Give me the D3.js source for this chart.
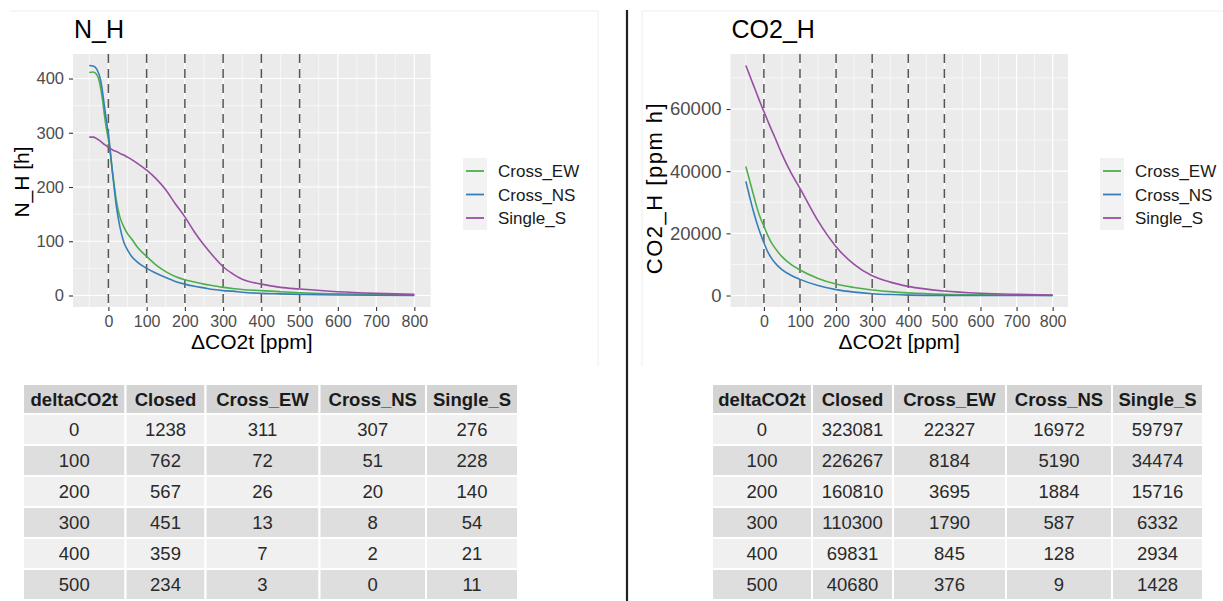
<!DOCTYPE html>
<html><head><meta charset="utf-8">
<script src="https://cdn.jsdelivr.net/npm/d3@7"></script>
<style>
body{margin:0;background:#fff;}
text{font-family:"Liberation Sans",Arial,Helvetica,sans-serif;}
</style>
</head><body>
<svg id="c" width="1223" height="601"></svg>
<script>
// ---------------- DATA ----------------
const seriesNames = ["Cross_EW", "Cross_NS", "Single_S"];
const seriesColors = ["#4DAF4A", "#377EB8", "#984EA3"];

const xTicks = [0, 100, 200, 300, 400, 500, 600, 700, 800];
const dashedAt = [0, 100, 200, 300, 400, 500];

// N_H curves
const nhX = [-50,-40,-30,-20,-15,-10,-5,0,5,10,15,20,30,40,50,60,75,100,125,150,175,200,225,250,275,300,325,350,400,450,500,600,700,800];
const nhCrossEW = [411,412,407,382,359,331,307,288,262,232,205,178,145,127,114,105,90,72,56,44,35,29,25,21,18,15,13,11,9,7,5,3,2,1];
const nhCrossNS = [424,423,417,396,374,347,322,298,267,231,200,169,127,99,84,73,62,50,41,33,26,21,17,14,11,9,8,6,4,3,2,1,0.5,0];
const nhSingleS = [292,292,289,284,281,278,276,273,271,269,267,266,262,259,255,251,244,231,215,195,169,145,117,93,72,53,40,30,21,15,12,7,4,2];
const nhYTicks = [0, 100, 200, 300, 400];

// CO2_H curves
const co2X = [-50,-40,-30,-20,-10,0,10,20,30,50,75,100,150,200,250,300,350,400,500,600,700,800];
const co2CrossEW = [41500,37200,32900,28600,25000,22327,19500,17200,15400,12500,10000,8184,5500,3695,2600,1790,1250,845,376,200,100,50];
const co2CrossNS = [36700,32000,27500,23500,20000,16972,14200,12200,10600,8300,6500,5190,3200,1884,1100,587,300,128,9,0,0,0];
const co2SingleS = [74000,71000,68000,65000,62000,59200,56400,53600,51000,45500,39500,34474,24000,15716,10000,6332,4300,2934,1428,700,350,150];
const co2YTicks = [0, 20000, 40000, 60000];

// Tables
const tableHeader = ["deltaCO2t", "Closed", "Cross_EW", "Cross_NS", "Single_S"];
const tableDelta = [0, 100, 200, 300, 400, 500];
const nhClosed = [1238, 762, 567, 451, 359, 234];
const nhTabEW = [311, 72, 26, 13, 7, 3];
const nhTabNS = [307, 51, 20, 8, 2, 0];
const nhTabS = [276, 228, 140, 54, 21, 11];
const co2Closed = [323081, 226267, 160810, 110300, 69831, 40680];
const co2TabEW = [22327, 8184, 3695, 1790, 845, 376];
const co2TabNS = [16972, 5190, 1884, 587, 128, 9];
const co2TabS = [59797, 34474, 15716, 6332, 2934, 1428];

// ---------------- DRAW ----------------
const svg = d3.select("#c");
svg.append("rect").attr("width", 1223).attr("height", 601).attr("fill", "#fff");

// faint screenshot frames
svg.append("path").attr("d", "M10,11H598V366").attr("fill", "none").attr("stroke", "#eeeeee").attr("stroke-width", 1);
svg.append("path").attr("d", "M642,366V11H1223").attr("fill", "none").attr("stroke", "#eeeeee").attr("stroke-width", 1);

// divider
svg.append("line").attr("x1", 627).attr("x2", 627).attr("y1", 10).attr("y2", 601)
  .attr("stroke", "#222").attr("stroke-width", 2.2);

function expand(lo, hi) { const e = (hi - lo) * 0.05; return [lo - e, hi + e]; }

function drawChart(cfg) {
  const g = svg.append("g");
  const xs = cfg.x;
  const allY = cfg.series.flat();
  const x = d3.scaleLinear().domain(expand(d3.min(xs), d3.max(xs))).range([cfg.px0, cfg.px1]);
  const y = d3.scaleLinear().domain(expand(0, d3.max(allY))).range([cfg.py1, cfg.py0]);
  const [xd0, xd1] = x.domain(), [yd0, yd1] = y.domain();

  // panel
  g.append("rect").attr("x", cfg.px0).attr("y", cfg.py0)
    .attr("width", cfg.px1 - cfg.px0).attr("height", cfg.py1 - cfg.py0).attr("fill", "#EBEBEB");

  // minor grid
  const xMinor = [];
  for (let i = 0; i < xTicks.length - 1; i++) xMinor.push((xTicks[i] + xTicks[i + 1]) / 2);
  xMinor.push(xTicks[0] - (xTicks[1] - xTicks[0]) / 2);
  const yt = cfg.yTicks, ystep = yt[1] - yt[0];
  const yMinor = yt.map(v => v + ystep / 2).concat([yt[0] - ystep / 2]);
  g.selectAll(".xmin").data(xMinor.filter(v => v > xd0 && v < xd1)).join("line")
    .attr("x1", d => x(d)).attr("x2", d => x(d)).attr("y1", cfg.py0).attr("y2", cfg.py1)
    .attr("stroke", "#fff").attr("stroke-width", 0.6);
  g.selectAll(".ymin").data(yMinor.filter(v => v > yd0 && v < yd1)).join("line")
    .attr("y1", d => y(d)).attr("y2", d => y(d)).attr("x1", cfg.px0).attr("x2", cfg.px1)
    .attr("stroke", "#fff").attr("stroke-width", 0.6);
  // major grid
  g.selectAll(".xmaj").data(xTicks).join("line")
    .attr("x1", d => x(d)).attr("x2", d => x(d)).attr("y1", cfg.py0).attr("y2", cfg.py1)
    .attr("stroke", "#fff").attr("stroke-width", 1.2);
  g.selectAll(".ymaj").data(yt).join("line")
    .attr("y1", d => y(d)).attr("y2", d => y(d)).attr("x1", cfg.px0).attr("x2", cfg.px1)
    .attr("stroke", "#fff").attr("stroke-width", 1.2);

  // dashed verticals
  g.selectAll(".dash").data(dashedAt).join("line")
    .attr("x1", d => x(d)).attr("x2", d => x(d)).attr("y1", cfg.py0).attr("y2", cfg.py1)
    .attr("stroke", "#555").attr("stroke-width", 1.5).attr("stroke-dasharray", "9,6");

  // curves
  const line = d3.line().x((d, i) => x(xs[i])).y(d => y(d)).curve(d3.curveMonotoneX);
  cfg.series.forEach((s, k) => {
    g.append("path").attr("d", line(s)).attr("fill", "none")
      .attr("stroke", seriesColors[k]).attr("stroke-width", 1.6);
  });

  // axes
  const ax = g.append("g").attr("transform", `translate(0,${cfg.py1})`)
    .call(d3.axisBottom(x).tickValues(xTicks).tickSize(4).tickPadding(5).tickFormat(d3.format("d")));
  const ay = g.append("g").attr("transform", `translate(${cfg.px0},0)`)
    .call(d3.axisLeft(y).tickValues(yt).tickSize(4).tickPadding(5).tickFormat(d3.format("d")));
  [ax, ay].forEach(a => {
    a.select(".domain").remove();
    a.selectAll(".tick line").attr("stroke", "#333").attr("stroke-width", 1.1);
    a.selectAll(".tick text").attr("fill", "#4D4D4D")
      .attr("font-family", "Liberation Sans, Arial, sans-serif");
  });
  ax.selectAll(".tick text").attr("font-size", 16);
  ay.selectAll(".tick text").attr("font-size", cfg.ytickSize);

  // titles
  g.append("text").attr("x", cfg.px0 + 1).attr("y", 38).attr("font-size", 25).attr("fill", "#000").text(cfg.title);
  g.append("text").attr("x", (cfg.px0 + cfg.px1) / 2).attr("y", 349).attr("text-anchor", "middle")
    .attr("font-size", 21).attr("fill", "#000").text("\u0394CO2t [ppm]");
  g.append("text").attr("transform", `translate(${cfg.ytX},${cfg.ytY}) rotate(-90)`)
    .attr("text-anchor", "middle").attr("font-size", cfg.ytSize)
    .attr("letter-spacing", cfg.ytLs).attr("fill", "#000").text(cfg.yTitle);

  // legend
  const lg = g.append("g");
  lg.append("rect").attr("x", cfg.lx).attr("y", 158).attr("width", 24).attr("height", 72).attr("fill", "#F2F2F2");
  seriesNames.forEach((n, k) => {
    const cy = 171 + k * 23.5;
    lg.append("line").attr("x1", cfg.lx + 3).attr("x2", cfg.lx + 21).attr("y1", cy).attr("y2", cy)
      .attr("stroke", seriesColors[k]).attr("stroke-width", 1.8);
    lg.append("text").attr("x", cfg.lx + 35).attr("y", cy).attr("dy", "0.36em")
      .attr("font-size", 17).attr("fill", "#1a1a1a").text(n);
  });
}

drawChart({
  title: "N_H", yTitle: "N_H [h]", ytX: 29, ytY: 182, ytSize: 21, ytLs: 0, ytickSize: 16.5,
  px0: 73, px1: 430.6, py0: 54, py1: 307,
  x: nhX, series: [nhCrossEW, nhCrossNS, nhSingleS], yTicks: nhYTicks, lx: 463
});
drawChart({
  title: "CO2_H", yTitle: "CO2_H [ppm h]", ytX: 662, ytY: 188, ytSize: 22, ytLs: 1.5, ytickSize: 18.5,
  px0: 730.5, px1: 1068, py0: 54, py1: 307,
  x: co2X, series: [co2CrossEW, co2CrossNS, co2SingleS], yTicks: co2YTicks, lx: 1100
});

function drawTable(bounds, cols) {
  const g = svg.append("g");
  const top = 384, hh = 30, rh = 31;
  const rows = tableDelta.map((d, i) => [d].concat(cols.map(c => c[i])));
  const cells = [];
  tableHeader.forEach((h, j) => cells.push({r: -1, j, t: h}));
  rows.forEach((row, i) => row.forEach((v, j) => cells.push({r: i, j, t: String(v)})));
  const yTop = r => r < 0 ? top : top + hh + r * rh;
  const hgt = r => r < 0 ? hh : rh;
  const fill = r => r < 0 ? "#D4D4D4" : (r % 2 === 0 ? "#F0F0F0" : "#DEDEDE");
  g.selectAll("rect").data(cells).join("rect")
    .attr("x", d => bounds[d.j]).attr("y", d => yTop(d.r))
    .attr("width", d => bounds[d.j + 1] - bounds[d.j]).attr("height", d => hgt(d.r))
    .attr("fill", d => fill(d.r)).attr("stroke", "#fff").attr("stroke-width", 2);
  g.selectAll("text").data(cells).join("text")
    .attr("x", d => (bounds[d.j] + bounds[d.j + 1]) / 2)
    .attr("y", d => yTop(d.r) + hgt(d.r) / 2).attr("dy", "0.36em")
    .attr("text-anchor", "middle")
    .attr("font-size", 18.5)
    .attr("font-weight", d => d.r < 0 ? "bold" : "normal")
    .attr("fill", d => d.r < 0 ? "#1a1a1a" : "#2a2a2a").text(d => d.t);
}
drawTable([23, 125.5, 205.5, 319.5, 426, 518], [nhClosed, nhTabEW, nhTabNS, nhTabS]);
drawTable([712, 812, 893, 1006, 1112, 1203], [co2Closed, co2TabEW, co2TabNS, co2TabS]);
</script>
</body></html>
